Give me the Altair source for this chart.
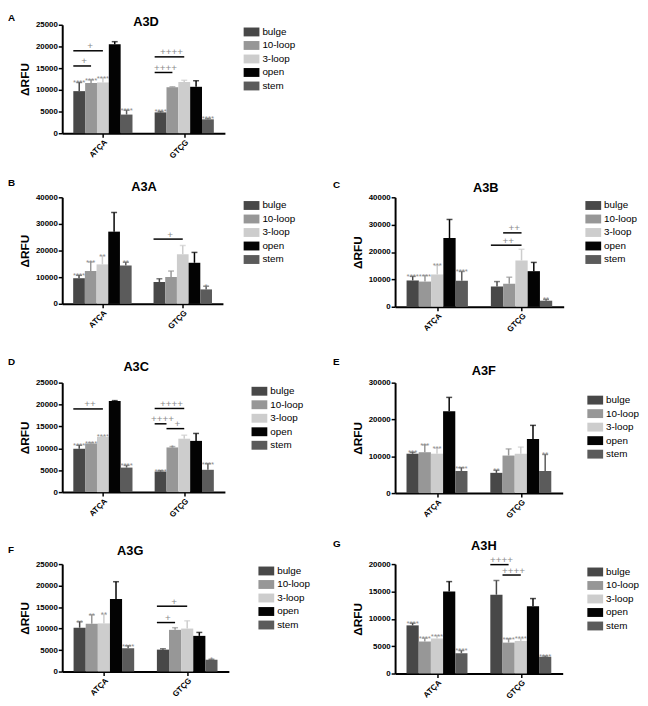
import altair as alt
import pandas as pd

SERIES = ["bulge", "10-loop", "3-loop", "open", "stem"]
COLORS = ["#484848", "#979797", "#cdcdcd", "#030303", "#5b5b5b"]
SITES = ["ATÇA", "GTÇG"]

# brackets: (site index, from series, to series, height, label, end shift in bar widths)
# ---- A3D ----
A3D_MEAN = [[9700, 11600, 11700, 20500, 4300], [4800, 10600, 11800, 10700, 3200]]
A3D_ERR = [[2000, 700, 1100, 600, 1000], [200, 100, 400, 1400, 200]]
A3D_STARS = [["****", "****", "****", "", "****"], ["****", "", "", "", "****"]]
A3D_BRACKETS = [(0, "bulge", "3-loop", 19000, "+", 0), (0, "bulge", "10-loop", 15500, "+", 0),
                (1, "bulge", "3-loop", 17600, "++++", 0), (1, "bulge", "10-loop", 14000, "++++", 0)]
# ---- A3A ----
A3A_MEAN = [[9600, 12300, 14800, 27100, 14400], [8200, 10100, 18600, 15400, 5400]]
A3A_ERR = [[1100, 3400, 3200, 7200, 1200], [1200, 2200, 3300, 3900, 1200]]
A3A_STARS = [["****", "***", "**", "", "**"], ["", "", "", "", "*"]]
A3A_BRACKETS = [(1, "bulge", "3-loop", 24300, "+", 0)]
# ---- A3B ----
A3B_MEAN = [[9600, 9200, 11800, 25100, 9500], [7400, 8400, 16900, 13000, 2200]]
A3B_ERR = [[1500, 2200, 3300, 6800, 3400], [1800, 2400, 4100, 3200, 500]]
A3B_STARS = [["****", "****", "***", "", "****"], ["", "", "", "", "**"]]
A3B_BRACKETS = [(1, "bulge", "3-loop", 22500, "++", 0), (1, "10-loop", "3-loop", 27000, "++", 0)]
# ---- A3C ----
A3C_MEAN = [[9900, 11100, 12600, 20800, 5600], [4700, 10200, 12200, 11700, 5100]]
A3C_ERR = [[800, 200, 200, 100, 500], [200, 200, 800, 1700, 1400]]
A3C_STARS = [["****", "****", "****", "", "****"], ["****", "*", "", "", "****"]]
A3C_BRACKETS = [(0, "bulge", "3-loop", 19000, "++", 0), (1, "bulge", "3-loop", 19100, "++++", 0),
                (1, "bulge", "10-loop", 15600, "++++", -0.5), (1, "10-loop", "3-loop", 14500, "+", 0)]
# ---- A3F ----
A3F_MEAN = [[10700, 11100, 10700, 22200, 6000], [5500, 10200, 10700, 14700, 6000]]
A3F_ERR = [[400, 2000, 1500, 3800, 900], [700, 1800, 1800, 3700, 4500]]
A3F_STARS = [["***", "***", "***", "", "****"], ["**", "", "", "", "**"]]
A3F_BRACKETS = []
# ---- A3G ----
A3G_MEAN = [[10200, 11100, 11200, 16900, 5400], [5100, 9700, 10000, 8300, 2750]]
A3G_ERR = [[1400, 2100, 2100, 4000, 600], [200, 500, 1800, 800, 100]]
A3G_STARS = [["**", "**", "**", "", "****"], ["", "", "", "", "*"]]
A3G_BRACKETS = [(1, "bulge", "3-loop", 15200, "+", 0), (1, "bulge", "10-loop", 11400, "+", 0)]
# ---- A3H ----
A3H_MEAN = [[8800, 5850, 6400, 15000, 3700], [14400, 5650, 5950, 12300, 3050]]
A3H_ERR = [[400, 600, 500, 1800, 500], [2600, 700, 450, 1400, 150]]
A3H_STARS = [["****", "****", "****", "", "****"], ["", "****", "****", "", "****"]]
A3H_BRACKETS = [(1, "bulge", "10-loop", 19900, "++++", 0), (1, "10-loop", "3-loop", 18000, "++++", 0)]

BW = 0.1455
FONT = "Liberation Sans"


def spacer_text(y, size):
    d = pd.DataFrame({"s": ["."]})
    return alt.Chart(d).mark_text(opacity=0, baseline="top", align="left", fontSize=size).encode(
        x=alt.value(0), y=alt.value(y), text="s:N")


def panel(name, letter, mean, err, stars, brackets, ymax, ystep, lay):
    rows = []
    for gi in range(2):
        for si in range(5):
            rows.append(dict(site=SITES[gi], gi=gi, series=SERIES[si], si=si,
                             mean=mean[gi][si], top=mean[gi][si] + err[gi][si],
                             stars=stars[gi][si]))
    df = pd.DataFrame(rows)
    W, H = lay["w"], lay["h"]
    xs = alt.Scale(domain=[-0.5, 1.5], nice=False, zero=False)
    ys = alt.Scale(domain=[0, ymax], nice=False)
    label_expr = f"datum.value < 0.5 ? '{SITES[0]}' : '{SITES[1]}'"
    xaxis = alt.Axis(values=[0, 1], labelExpr=label_expr, labelAngle=-45, title=None, grid=False)
    yaxis = alt.Axis(values=list(range(0, ymax + 1, ystep)), format="d", title="ΔRFU", grid=False)

    def X(f):
        return alt.X(f"{f}:Q", scale=xs, axis=xaxis)

    def Y(f):
        return alt.Y(f"{f}:Q", scale=ys, axis=yaxis)

    legend = alt.Legend(orient="none", legendX=W + lay["lgx"], legendY=lay["lgy"],
                        direction="vertical", title=None)
    col = alt.Color("series:N", scale=alt.Scale(domain=SERIES, range=COLORS), legend=legend)

    base = alt.Chart(df).transform_calculate(
        xc=f"datum.gi + (datum.si - 2) * {BW}",
        xl=f"datum.gi + (datum.si - 2.5) * {BW}",
        xr=f"datum.gi + (datum.si - 1.5) * {BW}",
        zero="0",
    )
    layers = [
        base.mark_rect().encode(x=X("xl"), x2="xr:Q", y=Y("mean"), y2="zero:Q", color=col),
        base.mark_rule(strokeWidth=1.5).encode(x=X("xc"), y=Y("mean"), y2="top:Q", color=col),
        base.mark_tick(orient="horizontal", size=6, thickness=1.5).encode(x=X("xc"), y=Y("top"), color=col),
        base.transform_filter("datum.stars != ''").mark_text(
            color="#8c8c8c", fontSize=8, font=FONT, baseline="alphabetic", dy=3
        ).encode(x=X("xc"), y=Y("top"), text="stars:N"),
    ]
    if brackets:
        bdf = pd.DataFrame([dict(gi=b[0], f=SERIES.index(b[1]), t=SERIES.index(b[2]), yv=b[3], lab=b[4], e=b[5])
                            for b in brackets])
        bb = alt.Chart(bdf).transform_calculate(
            bx0=f"datum.gi + (datum.f - 2.5) * {BW}",
            bx1=f"datum.gi + (datum.t - 2 + datum.e) * {BW}",
        ).transform_calculate(bm="(datum.bx0 + datum.bx1) / 2")
        layers.append(bb.mark_rule(color="black", strokeWidth=1.5).encode(x=X("bx0"), x2="bx1:Q", y=Y("yv")))
        layers.append(bb.mark_text(color="#8c8c8c", fontSize=10, font=FONT, baseline="alphabetic", dy=-1.5, dx=2)
                      .encode(x=X("bm"), y=Y("yv"), text="lab:N"))
    tdf = pd.DataFrame({"t": [letter], "n": [name]})
    layers.append(alt.Chart(tdf).mark_text(align="left", baseline="top", fontSize=10,
                                           fontWeight="bold", font=FONT, color="black")
                  .encode(x=alt.value(lay["lx"]), y=alt.value(lay["ly"]), text="t:N"))
    layers.append(alt.Chart(tdf).mark_text(align="center", baseline="top", fontSize=13,
                                           fontWeight="bold", font=FONT, color="black")
                  .encode(x=alt.value(lay["tx"]), y=alt.value(lay["ty"]), text="n:N"))
    # invisible extent markers that fix the panel's layout bounds
    layers.append(spacer_text(lay["top"], 1))
    layers.append(spacer_text(H + 30, 2))
    return alt.layer(*layers).properties(width=W, height=H)


pA = panel("A3D", "A", A3D_MEAN, A3D_ERR, A3D_STARS, A3D_BRACKETS, 25000, 5000,
           dict(w=165, h=110, lx=-55, ly=-12, tx=85, ty=-8.3, lgx=22, lgy=2.3, top=-12))
pB = panel("A3A", "B", A3A_MEAN, A3A_ERR, A3A_STARS, A3A_BRACKETS, 40000, 10000,
           dict(w=163, h=108, lx=-55, ly=-19, tx=83, ty=-16, lgx=24, lgy=3.3, top=-19))
pC = panel("A3B", "C", A3B_MEAN, A3B_ERR, A3B_STARS, A3B_BRACKETS, 40000, 10000,
           dict(w=171, h=111, lx=-63, ly=-17.7, tx=92, ty=-15, lgx=25, lgy=3.3, top=-19))
pD = panel("A3C", "D", A3C_MEAN, A3C_ERR, A3C_STARS, A3C_BRACKETS, 25000, 5000,
           dict(w=165, h=111, lx=-55, ly=-25.7, tx=75, ty=-22.3, lgx=30, lgy=3.7, top=-31))
pE = panel("A3F", "E", A3F_MEAN, A3F_ERR, A3F_STARS, A3F_BRACKETS, 30000, 10000,
           dict(w=170, h=112, lx=-63, ly=-25.7, tx=90, ty=-17.3, lgx=28, lgy=12.7, top=-31))
pF = panel("A3G", "F", A3G_MEAN, A3G_ERR, A3G_STARS, A3G_BRACKETS, 25000, 5000,
           dict(w=169, h=109, lx=-55, ly=-19.7, tx=69, ty=-19.7, lgx=33, lgy=2, top=-26))
pG = panel("A3H", "G", A3H_MEAN, A3H_ERR, A3H_STARS, A3H_BRACKETS, 20000, 5000,
           dict(w=170, h=111, lx=-63, ly=-25.7, tx=90, ty=-24.7, lgx=28, lgy=3, top=-26))

blank = alt.Chart(pd.DataFrame({"s": [""]})).mark_text(opacity=0).encode(
    x=alt.value(0), y=alt.value(0), text="s:N").properties(width=1, height=1)

chart = alt.concat(
    pA, blank, pB, pC, pD, pE, pF, pG,
    columns=2, align="each", bounds="full",
    spacing=alt.RowColnumber(row=14, column=22.6),
).resolve_scale(color="independent").properties(
    padding=0
).configure_view(stroke=None).configure_axis(
    domainColor="black", domainWidth=2, tickColor="black", tickWidth=1.5, tickSize=4,
    labelFont=FONT, labelFontWeight="bold", labelFontSize=8, labelColor="black",
    titleFont=FONT, titleFontWeight="bold", titleFontSize=12, titleColor="black",
    labelPadding=1, grid=False,
).configure_axisY(titlePadding=4).configure_legend(
    labelFont=FONT, labelFontSize=10, labelColor="black",
    symbolType="M-1.6,-0.9L1.6,-0.9L1.6,0.9L-1.6,0.9Z", symbolSize=100,
    symbolStrokeWidth=0, symbolOpacity=1, rowPadding=3.7, labelOffset=6, padding=0,
)

chart.save("out.html", embed_options={"renderer": "svg", "actions": False})
